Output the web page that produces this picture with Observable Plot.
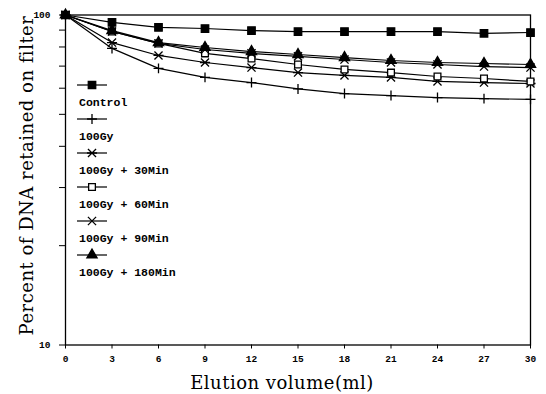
<!DOCTYPE html>
<html><head><meta charset="utf-8">
<script src="https://cdn.jsdelivr.net/npm/d3@7"></script>
<script src="https://cdn.jsdelivr.net/npm/@observablehq/plot@0.6"></script>
<style>body{margin:0;background:#fff}</style>
</head><body><div id="chart"></div>
<script>
const elution = [0, 3, 6, 9, 12, 15, 18, 21, 24, 27, 30];
const control = [100, 95, 91.7, 91, 89.7, 89.1, 89.1, 89.1, 89.1, 88, 88.5];
const gy100 = [100, 79.2, 68.9, 64.7, 62.4, 59.7, 57.8, 57, 56.2, 55.8, 55.5];
const gy100min30 = [100, 82.5, 75.4, 71.8, 69.3, 66.9, 65.6, 64.7, 62.9, 62.4, 62];
const gy100min60 = [100, 89.1, 82, 76.5, 73.8, 70.8, 68.4, 66.9, 65.1, 64.2, 62.9];
const gy100min90 = [100, 89.1, 82, 78.6, 76.5, 74.9, 73.3, 71.8, 70.8, 69.8, 69.3];
const gy100min180 = [100, 89.7, 82.5, 79.7, 77.5, 75.9, 74.3, 72.8, 71.8, 71.3, 70.8];
const seriesNames = ["Control", "100Gy", "100Gy + 30Min", "100Gy + 60Min", "100Gy + 90Min", "100Gy + 180Min"];
const xTicks = [0, 3, 6, 9, 12, 15, 18, 21, 24, 27, 30];
const yTicks = [10, 20, 30, 40, 50, 60, 70, 80, 90, 100];
const yLabeled = [10, 100];
const xTitle = "Elution volume(ml)";
const yTitle = "Percent of DNA retained on filter";

const asterisk = {
  draw(ctx, size) {
    const r = Math.sqrt(size) * 0.6;
    ctx.moveTo(-r, -r); ctx.lineTo(r, r);
    ctx.moveTo(-r, r); ctx.lineTo(r, -r);
    ctx.moveTo(-r * 1.25, 0); ctx.lineTo(r * 1.25, 0);
  }
};

const valuesList = [control, gy100, gy100min30, gy100min60, gy100min90, gy100min180];
const styles = [
  {symbol: d3.symbolSquare, fill: "black", stroke: "black", r: 4.2},
  {symbol: d3.symbolPlus, fill: "none", stroke: "black", r: 3.3},
  {symbol: asterisk, fill: "none", stroke: "black", r: 3.8},
  {symbol: d3.symbolSquare, fill: "white", stroke: "black", r: 3.8},
  {symbol: d3.symbolTimes, fill: "none", stroke: "black", r: 3.8},
  {symbol: d3.symbolTriangle, fill: "black", stroke: "black", r: 3.8}
];

const series = seriesNames.map((name, i) =>
  elution.map((x, j) => ({series: name, x, y: valuesList[i][j]})));

const marks = [Plot.frame({stroke: "black", strokeWidth: 1.3})];
series.forEach((data) => {
  marks.push(Plot.line(data, {x: "x", y: "y", stroke: "black", strokeWidth: 1.2}));
});
series.forEach((data, i) => {
  const s = styles[i];
  marks.push(Plot.dot(data, {x: "x", y: "y", symbol: s.symbol, r: s.r, fill: s.fill, stroke: s.stroke, strokeWidth: 1.3}));
});
marks.push(Plot.text([yTitle], {frameAnchor: "left", dx: -38, dy: -4.5, rotate: -90, text: d => d,
  textAnchor: "middle", lineAnchor: "middle", fontFamily: "DejaVu Serif", fontSize: 18, fontWeight: "normal", fill: "black"}));
marks.push(Plot.text([xTitle], {frameAnchor: "bottom", dx: -16, dy: 38, text: d => d,
  textAnchor: "middle", lineAnchor: "middle", fontFamily: "DejaVu Serif", fontSize: 18, fontWeight: "normal", fill: "black"}));

const plot = Plot.plot({
  width: 546, height: 394,
  marginLeft: 65, marginRight: 16, marginTop: 14.5, marginBottom: 49.5,
  style: {fontFamily: "'Liberation Mono', monospace", fontSize: "9.5px", fontWeight: "bold", background: "#fff", color: "#000"},
  x: {domain: [0, 30], ticks: xTicks, tickSize: 4, tickPadding: 6, label: null},
  y: {type: "log", domain: [10, 100], ticks: yTicks, tickFormat: d => yLabeled.includes(d) ? String(d) : "", tickSize: 6, tickPadding: 9, label: null},
  marks
});

const svg = d3.select(plot);
svg.selectAll("text").filter(function() { return this.textContent === xTitle || this.textContent === yTitle; })
  .style("letter-spacing", "0.5px");

// legend
const lg = svg.append("g").attr("text-anchor", "start");
seriesNames.forEach((name, i) => {
  const s = styles[i];
  const y = 85 + 34 * i;
  lg.append("line").attr("x1", 77).attr("x2", 107).attr("y1", y).attr("y2", y)
    .attr("stroke", "black").attr("stroke-width", 1.2);
  lg.append("path").attr("transform", `translate(92,${y})`)
    .attr("d", d3.symbol(s.symbol, Math.PI * s.r * s.r)())
    .attr("fill", s.fill).attr("stroke", s.stroke).attr("stroke-width", 1.3);
  lg.append("text").attr("x", 79).attr("y", y + 17).attr("dy", "0.35em")
    .attr("text-anchor", "start")
    .attr("font-family", "'Liberation Mono', monospace").attr("font-size", 11.5)
    .attr("font-weight", "bold").attr("fill", "black").text(name);
});

document.getElementById("chart").appendChild(plot);
</script>
</body></html>
